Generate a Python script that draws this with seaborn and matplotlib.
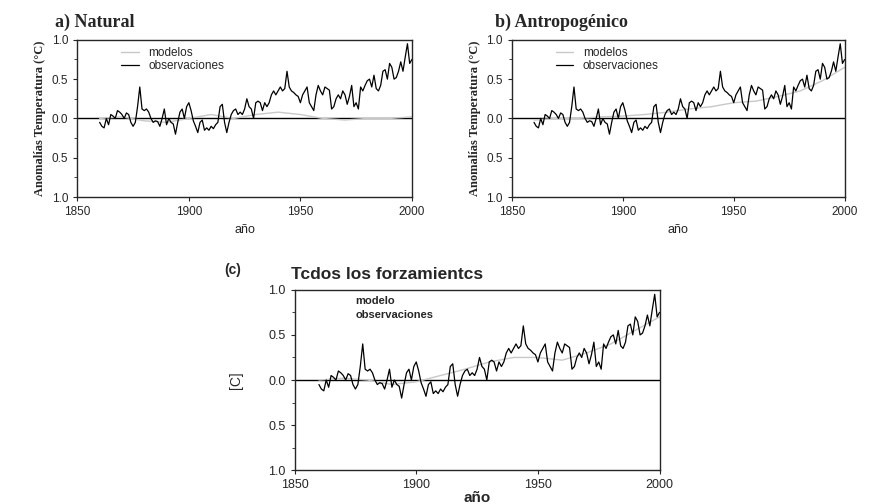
import numpy as np
import pandas as pd
import matplotlib
matplotlib.use("Agg")
import matplotlib.pyplot as plt
import seaborn as sns

years = list(range(1860, 2001))
obs = [-0.05, -0.10, -0.12, 0.00, -0.08, 0.05, 0.03, 0.00, 0.10, 0.08,
       0.05, 0.00, 0.07, 0.05, -0.05, -0.10, -0.05, 0.15, 0.40, 0.12,
       0.10, 0.12, 0.08, 0.00, -0.05, -0.03, -0.04, -0.10, 0.00, 0.12,
       -0.08, 0.00, -0.05, -0.07, -0.20, -0.05, 0.08, 0.12, 0.00, 0.15,
       0.20, 0.10, -0.03, -0.10, -0.18, -0.05, -0.02, -0.15, -0.12, -0.15,
       -0.10, -0.13, -0.08, -0.05, 0.15, 0.18, -0.05, -0.18, -0.05, 0.05,
       0.10, 0.12, 0.05, 0.08, 0.05, 0.12, 0.25, 0.15, 0.12, 0.00,
       0.20, 0.22, 0.20, 0.10, 0.20, 0.15, 0.20, 0.30, 0.35, 0.30,
       0.35, 0.40, 0.35, 0.38, 0.60, 0.40, 0.35, 0.33, 0.30, 0.28,
       0.20, 0.30, 0.35, 0.40, 0.20, 0.15, 0.10, 0.30, 0.42, 0.35,
       0.30, 0.40, 0.38, 0.36, 0.12, 0.15, 0.25, 0.30, 0.25, 0.35,
       0.30, 0.18, 0.28, 0.42, 0.15, 0.20, 0.12, 0.40, 0.35, 0.42,
       0.48, 0.50, 0.40, 0.55, 0.38, 0.35, 0.42, 0.60, 0.62, 0.50,
       0.70, 0.65, 0.50, 0.52, 0.60, 0.72, 0.60, 0.78, 0.95, 0.70,
       0.75]

# model ensemble means, decadal
model_years = [1860, 1870, 1880, 1890, 1900, 1910, 1920, 1930, 1940, 1950,
               1960, 1970, 1980, 1990, 2000]
model_nat = [0.00, 0.02, -0.03, -0.05, 0.00, 0.05, 0.00, 0.05, 0.08, 0.05,
             0.00, -0.02, 0.00, 0.00, 0.02]
model_ant = [-0.02, 0.00, 0.00, 0.02, 0.03, 0.05, 0.08, 0.12, 0.15, 0.20,
             0.22, 0.28, 0.35, 0.48, 0.65]
model_all = [0.00, 0.02, 0.00, -0.05, -0.02, 0.05, 0.12, 0.20, 0.25, 0.25,
             0.22, 0.30, 0.40, 0.55, 0.70]

ytick_vals = [1.0, 0.5, 0.0, -0.5, -1.0]
ytick_labels = ["1.0", "0.5", "0.0", "0.5", "1.0"]
xtick_vals = [1850, 1900, 1950, 2000]

sns.set_style("ticks")
plt.rcParams["font.family"] = ["Liberation Sans", "DejaVu Sans"]

df_obs = pd.DataFrame({"year": years, "anom": obs})

fig = plt.figure(figsize=(8.69, 5.04), dpi=100)
ax_a = fig.add_axes([0.089, 0.609, 0.385, 0.312])
ax_b = fig.add_axes([0.589, 0.609, 0.383, 0.312])
ax_c = fig.add_axes([0.339, 0.067, 0.420, 0.358])

panels = [(ax_a, model_nat, "modelos"), (ax_b, model_ant, "modelos"),
          (ax_c, model_all, "modelo")]

for ax, model, mlabel in panels:
    dfm = pd.DataFrame({"year": model_years, "anom": model})
    sns.lineplot(data=dfm, x="year", y="anom", ax=ax, color="#c8c8c8",
                 lw=1.0, label=mlabel)
    sns.lineplot(data=df_obs, x="year", y="anom", ax=ax, color="black",
                 lw=0.9, label="observaciones")
    ax.axhline(0, color="black", lw=1.0, zorder=0)
    ax.set_xlim(1850, 2000)
    ax.set_ylim(-1.0, 1.0)
    ax.set_yticks(ytick_vals)
    ax.set_yticklabels(ytick_labels)
    ax.set_yticks([0.75, 0.25, -0.25, -0.75], minor=True)
    ax.set_xticks(xtick_vals)
    ax.tick_params(labelsize=8.5, length=3, width=0.8)
    ax.tick_params(which="minor", length=2, width=0.6)
    for s in ax.spines.values():
        s.set_linewidth(1.0)
    ax.set_xlabel("año", fontsize=9)

for ax in (ax_a, ax_b):
    ax.set_ylabel("Anomalías Temperatura (°C)", fontsize=9,
                  family=["Liberation Serif", "DejaVu Serif"],
                  fontweight="bold", labelpad=4)
    ax.legend(loc="upper left", bbox_to_anchor=(0.1, 1.02), frameon=False,
              fontsize=8.5, handlelength=1.5, labelspacing=0.1)

ax_c.tick_params(labelsize=9)
ax_c.set_ylabel("[C]", fontsize=10, labelpad=18)
ax_c.set_xlabel("año", fontsize=11, fontweight="bold", labelpad=0)
ax_c.legend(loc="upper left", bbox_to_anchor=(0.14, 1.02), frameon=False,
            handlelength=0, handletextpad=0, labelspacing=0.3,
            prop={"weight": "bold", "size": 8})

fig.text(0.063, 0.955, "a) Natural", fontsize=13, fontweight="bold",
         family=["Liberation Serif", "DejaVu Serif"], va="center")
fig.text(0.570, 0.955, "b) Antropogénico", fontsize=13, fontweight="bold",
         family=["Liberation Serif", "DejaVu Serif"], va="center")
fig.text(0.258, 0.465, "(c)", fontsize=10, fontweight="bold", va="center")
fig.text(0.335, 0.455, "Tcdos los forzamientcs", fontsize=12.5,
         fontweight="bold", va="center")

fig.savefig("out.png", dpi=100)
